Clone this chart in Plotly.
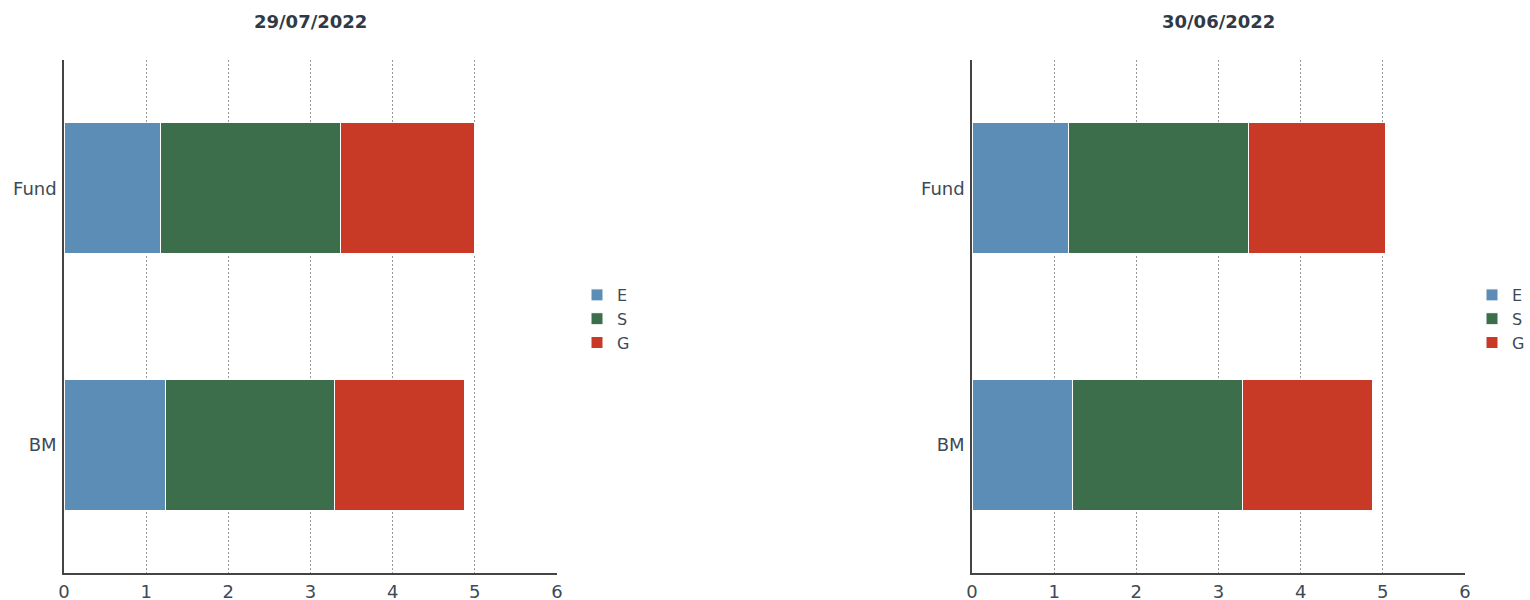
import plotly.graph_objects as go

categories = ["BM", "Fund"]
series_names = ["E", "S", "G"]
colors = ["#5b8db6", "#3c6e4c", "#c83a25"]

# chart 1: 29/07/2022
c1_title = "29/07/2022"
c1_E = [1.23, 1.18]
c1_S = [2.06, 2.19]
c1_G = [1.59, 1.63]

# chart 2: 30/06/2022
c2_title = "30/06/2022"
c2_E = [1.22, 1.18]
c2_S = [2.07, 2.19]
c2_G = [1.59, 1.66]

W, H = 1530, 600
font = "DejaVu Sans"
tick_col = "#3d4a57"
title_col = "#2f3a45"


def px(v):
    return v / W


def py(v):
    return 1 - v / H


fig = go.Figure()

charts = [
    (c1_title, [c1_E, c1_S, c1_G], "x", "y", "legend", 64, 557, 590),
    (c2_title, [c2_E, c2_S, c2_G], "x2", "y2", "legend2", 972, 1465, 1497),
]

for title, vals, xa, ya, lg, x0, x1, lx in charts:
    for name, v, col in zip(series_names, vals, colors):
        fig.add_trace(go.Bar(
            y=categories, x=v, name=name, orientation="h",
            marker=dict(color=col, line=dict(color="white", width=1)),
            xaxis=xa, yaxis=ya, legend=lg,
        ))
    fig.add_annotation(text="<b>" + title + "</b>", xref="paper", yref="paper",
                       x=px((x0 + x1) / 2), y=py(22), showarrow=False,
                       xanchor="center", yanchor="middle",
                       font=dict(family=font, size=18, color=title_col))

ax_common = dict(range=[0, 6], dtick=1, showgrid=True, gridcolor="#999999",
                 griddash="2px,2px", gridwidth=1, showline=True, linecolor="#444",
                 linewidth=1.5, zeroline=False, automargin=False, ticks="",
                 ticklabelstandoff=2,
                 tickfont=dict(family=font, size=18, color=tick_col), fixedrange=True)
ay_common = dict(showgrid=False, showline=True, linecolor="#444", linewidth=1.5,
                 automargin=False, ticks="", ticklabelstandoff=2,
                 tickfont=dict(family=font, size=18, color=tick_col),
                 domain=[py(573), py(60)], categoryorder="array",
                 categoryarray=categories, fixedrange=True)

leg_common = dict(y=py(319), yanchor="middle", traceorder="normal",
                  font=dict(family=font, size=16, color=tick_col), bgcolor="rgba(0,0,0,0)",
                  tracegroupgap=0)

fig.update_layout(
    width=W, height=H,
    margin=dict(l=0, r=0, t=0, b=0),
    paper_bgcolor="white", plot_bgcolor="white",
    barmode="stack", bargap=0.49,
    font=dict(family=font, color=tick_col),
    xaxis=dict(domain=[px(64), px(557)], anchor="y", **ax_common),
    yaxis=dict(anchor="x", **ay_common),
    xaxis2=dict(domain=[px(972), px(1465)], anchor="y2", **ax_common),
    yaxis2=dict(anchor="x2", **ay_common),
    legend=dict(x=px(577), xanchor="left", **leg_common),
    # anchored to the right edge so plotly does not shrink the plots to fit it
    legend2=dict(x=1, xanchor="right", **leg_common),
    showlegend=True,
)

fig.write_html(
    "out.html",
    config={"displayModeBar": False},
    post_script="document.body.style.margin='0';document.body.style.overflow='hidden';",
)
